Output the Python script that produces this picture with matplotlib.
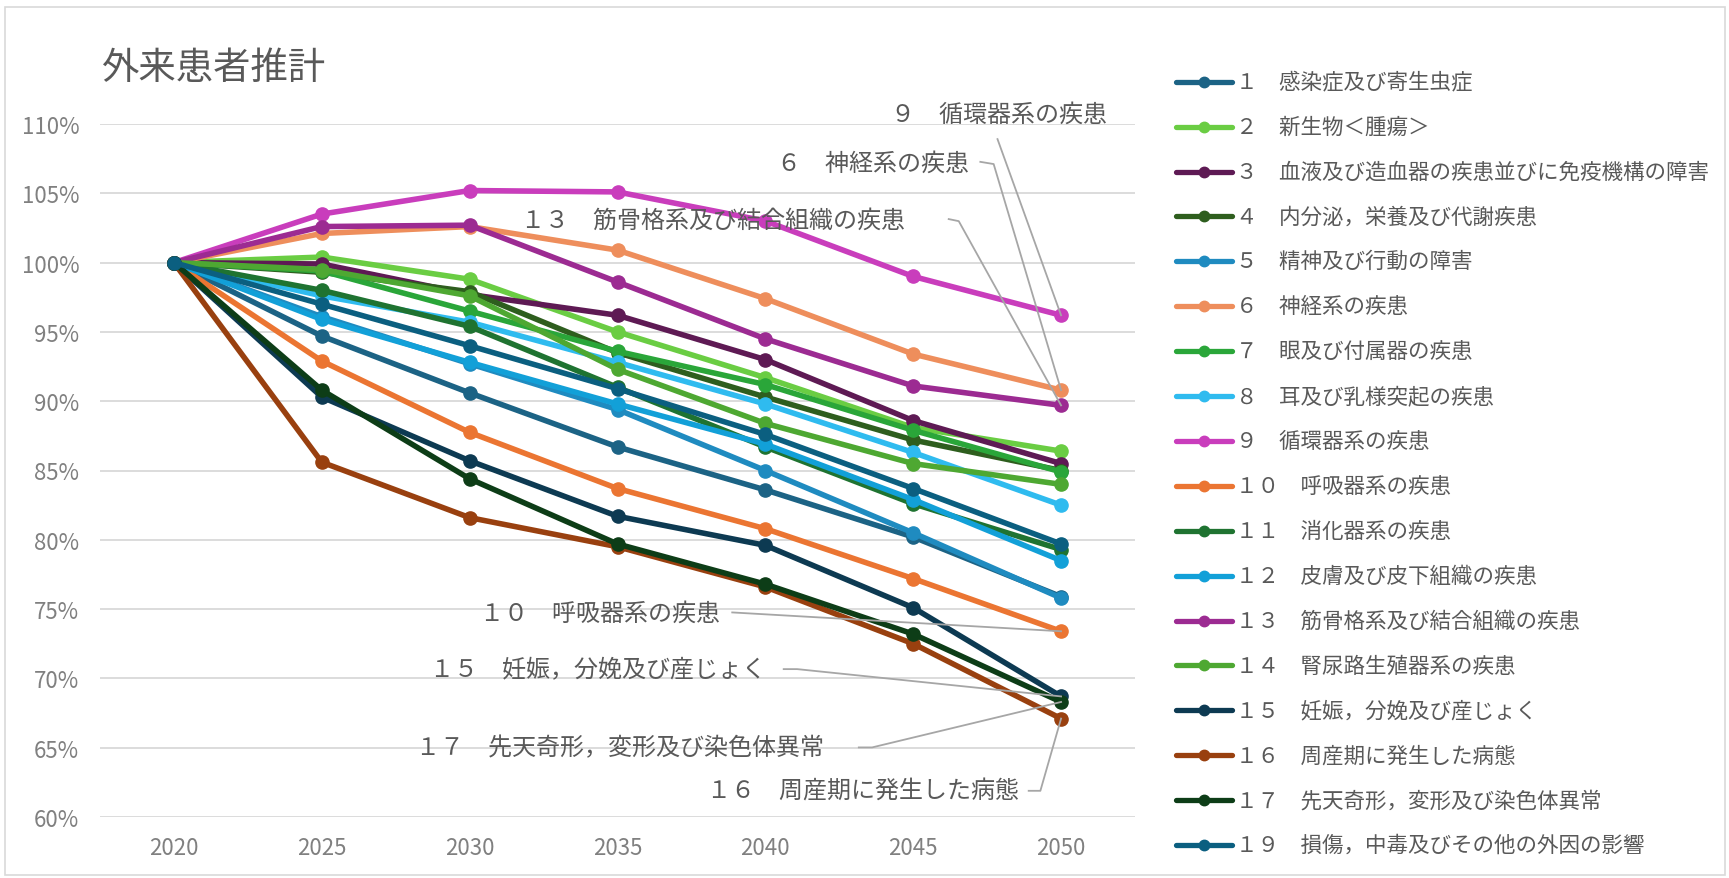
import matplotlib
matplotlib.use("Agg")
import matplotlib.pyplot as plt
from matplotlib.patches import Rectangle

plt.rcParams['font.family'] = ['Noto Sans CJK JP', 'DejaVu Sans']

W, H = 1729, 879

years = ['2020', '2025', '2030', '2035', '2040', '2045', '2050']

# Outpatient projections by disease group (2020 = 100%)
s01 = [100, 94.7, 90.6, 86.7, 83.6, 80.2, 75.9]
s02 = [100, 100.4, 98.8, 95.0, 91.7, 88.1, 86.4]
s03 = [100, 99.9, 97.7, 96.2, 93.0, 88.6, 85.5]
s04 = [100, 99.3, 97.9, 93.5, 90.3, 87.2, 85.0]
s05 = [100, 96.1, 92.7, 89.4, 85.0, 80.5, 75.8]
s06 = [100, 102.1, 102.6, 100.9, 97.4, 93.4, 90.8]
s07 = [100, 99.4, 96.5, 93.6, 91.2, 87.9, 84.9]
s08 = [100, 97.6, 95.7, 92.8, 89.8, 86.3, 82.5]
s09 = [100, 103.5, 105.2, 105.1, 103.0, 99.0, 96.2]
s10 = [100, 92.9, 87.75, 83.7, 80.8, 77.2, 73.4]
s11 = [100, 98.0, 95.4, 91.0, 86.7, 82.6, 79.3]
s12 = [100, 95.9, 92.8, 89.8, 86.9, 82.9, 78.5]
s13 = [100, 102.6, 102.7, 98.6, 94.5, 91.1, 89.7]
s14 = [100, 99.5, 97.6, 92.3, 88.4, 85.5, 84.0]
s15 = [100, 90.3, 85.7, 81.7, 79.6, 75.1, 68.7]
s16 = [100, 85.6, 81.6, 79.5, 76.6, 72.5, 67.1]
s17 = [100, 90.8, 84.4, 79.7, 76.8, 73.2, 68.3]
s19 = [100, 97.0, 94.0, 90.9, 87.6, 83.7, 79.7]

labels = [
    '１　感染症及び寄生虫症',
    '２　新生物＜腫瘍＞',
    '３　血液及び造血器の疾患並びに免疫機構の障害',
    '４　内分泌，栄養及び代謝疾患',
    '５　精神及び行動の障害',
    '６　神経系の疾患',
    '７　眼及び付属器の疾患',
    '８　耳及び乳様突起の疾患',
    '９　循環器系の疾患',
    '１０　呼吸器系の疾患',
    '１１　消化器系の疾患',
    '１２　皮膚及び皮下組織の疾患',
    '１３　筋骨格系及び結合組織の疾患',
    '１４　腎尿路生殖器系の疾患',
    '１５　妊娠，分娩及び産じょく',
    '１６　周産期に発生した病態',
    '１７　先天奇形，変形及び染色体異常',
    '１９　損傷，中毒及びその他の外因の影響',
]

colors = [
    '#1c6385', '#6acd43', '#5e1a54', '#2e5e1e', '#1f8bc0', '#ee8e5c',
    '#2aa639', '#2fbbef', '#c93dbc', '#eb7532', '#1f7331', '#12a0d8',
    '#9c2b92', '#4ea832', '#0d3a52', '#99400f', '#0d3d17', '#0b5f80',
]

series = [s01, s02, s03, s04, s05, s06, s07, s08, s09,
          s10, s11, s12, s13, s14, s15, s16, s17, s19]

# Callout labels: series index, text anchor (right end), leader path
callout_idx = [8, 5, 12, 9, 14, 16, 15]
callout_text_xy = [(6.311, 110.71), (5.375, 107.18), (4.947, 103.09),
                   (3.696, 74.71), (4.001, 70.67), (4.395, 65.07),
                   (5.713, 61.89)]
callout_leader = [
    [(5.570, 108.91)],
    [(5.454, 107.27), (5.544, 107.11)],
    [(5.240, 103.14), (5.308, 102.99)],
    [(3.776, 74.76)],
    [(4.124, 70.67), (4.215, 70.67)],
    [(4.632, 65.02), (4.722, 65.02)],
    [(5.781, 61.89), (5.860, 61.89)],
]

fig = plt.figure(figsize=(W / 100, H / 100), dpi=100)
fig.patch.set_facecolor('white')
fig.patches.append(Rectangle((4.5 / W, 1 - 876 / H), 1720 / W, 868 / H,
                             transform=fig.transFigure, fill=False,
                             edgecolor='#d9d9d9', lw=1.2))

ax = fig.add_axes([100 / W, 1 - 818 / H, (1135 - 100) / W, (818 - 125) / H])
ax.set_xlim(-0.5, 6.5)
ax.set_ylim(60, 110)
x = list(range(len(years)))

for vals, c in zip(series, colors):
    ax.plot(x, vals, color=c, lw=4.0, marker='o', ms=9.5,
            solid_capstyle='round', solid_joinstyle='round', zorder=3)

ax.set_xticks(x)
ax.set_xticklabels(years)
yt = list(range(60, 111, 5))
ax.set_yticks(yt)
ax.set_yticklabels([f'{v}%' for v in yt])
ax.tick_params(axis='both', length=0, labelsize=16, labelcolor='#808080')
ax.tick_params(axis='x', pad=14)
ax.tick_params(axis='y', pad=15)
for sp in ax.spines.values():
    sp.set_visible(False)
ax.yaxis.grid(True, color='#d9d9d9', lw=1.3)
ax.set_axisbelow(True)

for idx, (tx, ty), path in zip(callout_idx, callout_text_xy, callout_leader):
    ax.text(tx, ty, labels[idx], ha='right', va='center', fontsize=17.3,
            color='#595959', zorder=5, clip_on=False)
    xs = [p[0] for p in path] + [6]
    ys = [p[1] for p in path] + [series[idx][-1]]
    ax.plot(xs, ys, color='#a6a6a6', lw=1.3, zorder=4, clip_on=False)

fig.text(102 / W, 1 - 68 / H, '外来患者推計', fontsize=26.9,
         color='#595959', ha='left', va='center')

# Legend drawn as a column of sample lines with labels
for i, (lab, c) in enumerate(zip(labels, colors)):
    py = 1 - (82.7 + i * 44.9) / H
    fig.lines.append(plt.Line2D([1176 / W, 1232 / W], [py, py],
                                transform=fig.transFigure, color=c, lw=3.8,
                                solid_capstyle='round'))
    fig.lines.append(plt.Line2D([1204 / W], [py], transform=fig.transFigure,
                                color=c, marker='o', ms=7.5, lw=0))
    fig.text(1236.5 / W, py, lab, fontsize=15.5, color='#595959',
             ha='left', va='center')

fig.savefig('out.png', dpi=100)
